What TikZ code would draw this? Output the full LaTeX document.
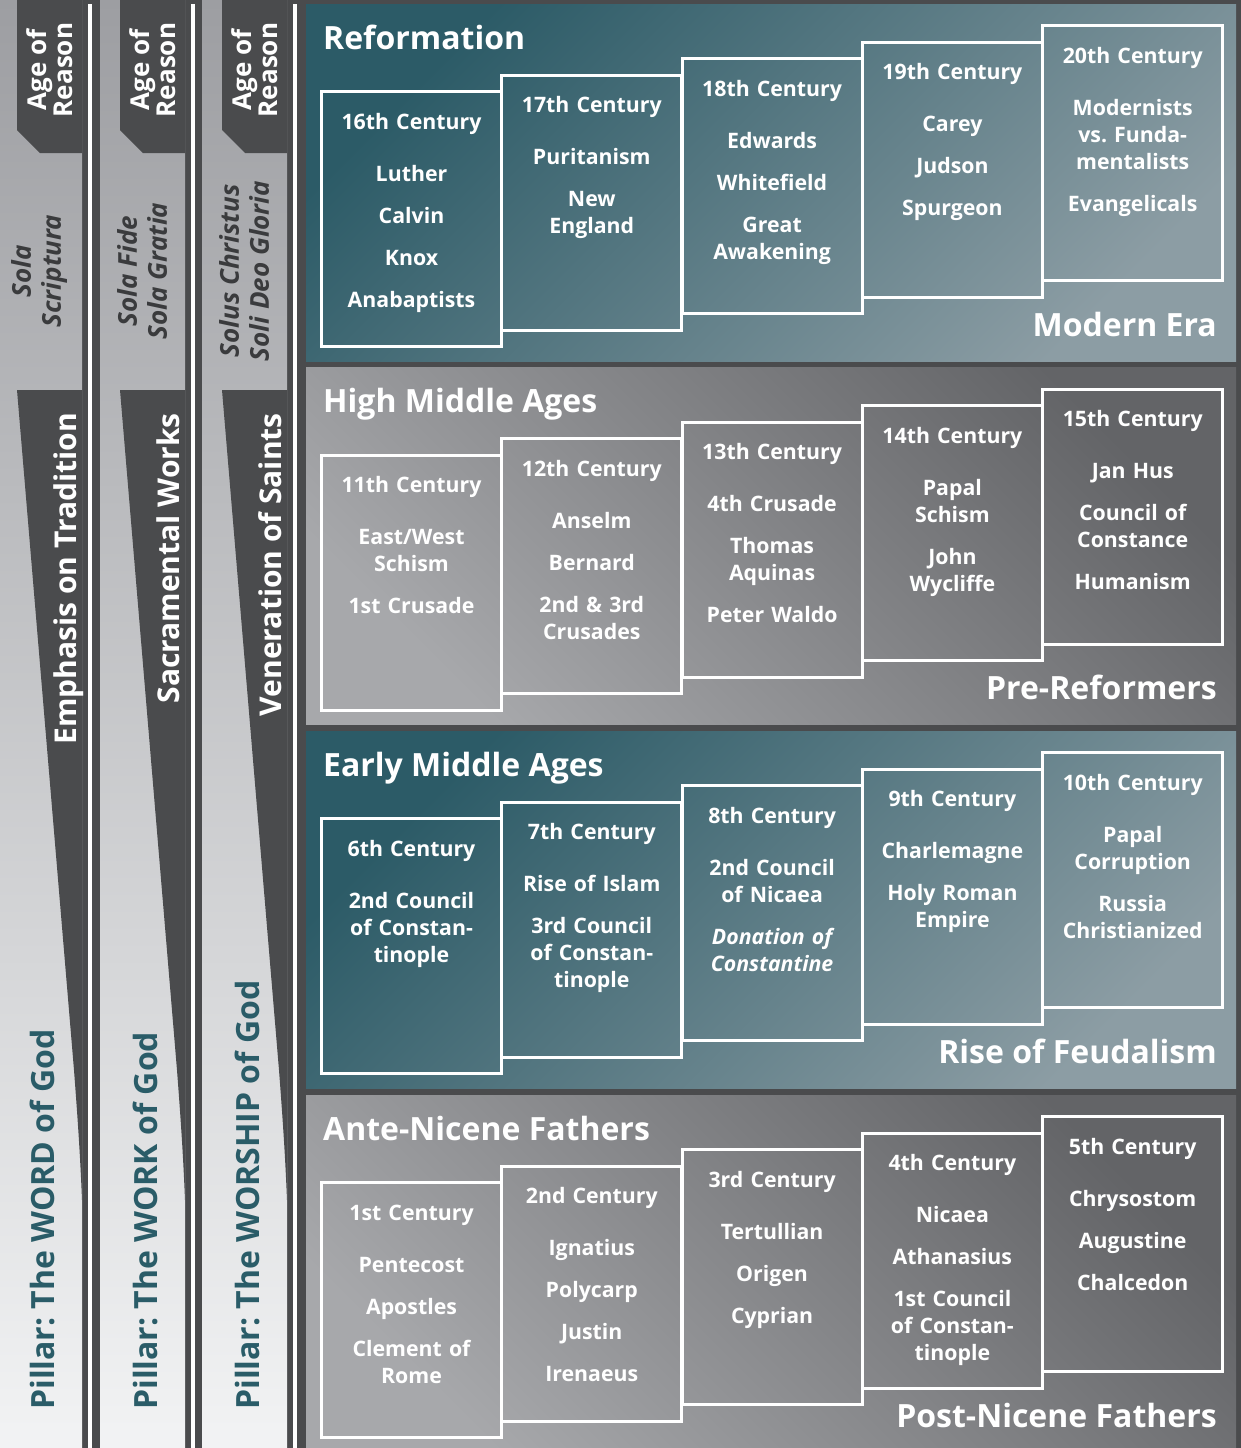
\documentclass[tikz,border=0pt]{standalone}
\usepackage{fontspec}
\setmainfont{Open Sans}
\frenchspacing
\definecolor{bgc}{HTML}{4A4B4D}
\definecolor{tealD}{HTML}{2C5B67}
\definecolor{tealL}{HTML}{8C9DA4}
\definecolor{grayD}{HTML}{636467}
\definecolor{grayL}{HTML}{A7A8AB}
\definecolor{pilT}{HTML}{9D9EA2}
\definecolor{pilB}{HTML}{F2F3F4}
\definecolor{tealtext}{HTML}{2A5C68}
\definecolor{darktext}{HTML}{3A3B3D}
\newcommand\gap{\\[15pt]}
\newcommand\centurybox[4]{%
  \pgfmathsetmacro\bx{320+180.3*#2}%
  \pgfmathsetmacro\by{-(90-16.5*#2+363.67*#1)}%
  \node[cbox, anchor=north west] (b#1#2) at (\bx,\by) {};
  \node[ctext, anchor=base] (t#1#2) at ([yshift=-39pt]b#1#2.north) {#3\\[25pt]#4};
}
\newcommand\pillarcol[5]{%
  \def\L{#2}%
  \shade[top color=pilT, bottom color=pilB] (\L,0) rectangle (\L+85,-1448);
  \fill[bgc] (\L+20,0) -- (\L+20,-130) -- (\L+43,-153) -- (\L+85,-153) -- (\L+85,0) -- cycle;
  \fill[bgc] (\L+20,-390) -- (\L+85,-390) -- (\L+85,-1200) .. controls (\L+83,-1150) and (\L+80,-1110) .. (\L+77,-1070) -- cycle;
  \fill[white] (\L+91,-4) rectangle (\L+95,-1448);
  \node[agetext, rotate=90] (ar#1) at (\L+53,-70) {Age of\\Reason};
  \node[soltext, rotate=90] (pr#1) at (\L+42,-271) {#3};
  \node[bandtext, rotate=90, anchor=base east] (bd#1) at (\L+79,-413) {#4};
  \node[piltext, rotate=90, anchor=base west] (pl#1) at (\L+57,-1410) {#5};
}
\begin{document}
\begin{tikzpicture}[x=1pt,y=1pt,
  cbox/.style={draw=white, line width=3pt, minimum width=180pt, minimum height=255pt, inner sep=0pt},
  ctext/.style={text=white, font=\fontsize{21.3}{27}\selectfont\bfseries, align=center, text width=178pt, inner sep=0pt},
  ptitle/.style={text=white, font=\fontsize{32}{38}\selectfont\bfseries, inner sep=0pt},
  tealpanel/.style={anchor=north west, minimum width=930pt, minimum height=357pt, inner sep=0pt, top color=tealD, bottom color=tealL, shading angle=45},
  graypanel/.style={anchor=north west, minimum width=930pt, minimum height=357pt, inner sep=0pt, top color=grayD, bottom color=grayL, shading angle=-45},
  agetext/.style={text=white, font=\fontsize{26}{26}\selectfont\bfseries, align=center, inner sep=0pt},
  soltext/.style={text=darktext, font=\fontsize{26}{30}\selectfont\bfseries\itshape, align=center, inner sep=0pt},
  bandtext/.style={text=white, font=\fontsize{30}{36}\selectfont\bfseries, inner sep=0pt},
  piltext/.style={text=tealtext, font=\fontsize{32}{36}\selectfont\bfseries, inner sep=0pt}
]
\useasboundingbox (0,0) rectangle (1241,-1448);
\fill[bgc] (0,0) rectangle (1241,-1448);

% pillars
\pillarcol{1}{-3}{Sola\\Scriptura}{Emphasis on Tradition}{Pillar: The WORD of God}
\pillarcol{2}{100}{Sola Fide\\Sola Gratia}{Sacramental Works}{Pillar: The WORK of God}
\pillarcol{3}{202}{Solus Christus\\Soli Deo Gloria}{Veneration of Saints}{Pillar: The WORSHIP of God}

% panels
\node[tealpanel] (P0) at (306,-4) {};
\node[graypanel] (P1) at (306,-367.67) {};
\node[tealpanel] (P2) at (306,-731.33) {};
\node[graypanel] (P3) at (306,-1095) {};

\node[ptitle, anchor=base west] (h0) at (323,-49) {Reformation};
\node[ptitle, anchor=base east] (f0) at (1217,-336) {Modern Era};
\node[ptitle, anchor=base west] (h1) at (323,-412.67) {High Middle Ages};
\node[ptitle, anchor=base east] (f1) at (1217,-699.67) {Pre-Reformers};
\node[ptitle, anchor=base west] (h2) at (323,-776.33) {Early Middle Ages};
\node[ptitle, anchor=base east] (f2) at (1217,-1063.33) {Rise of Feudalism};
\node[ptitle, anchor=base west] (h3) at (323,-1140) {Ante-Nicene Fathers};
\node[ptitle, anchor=base east] (f3) at (1217,-1427) {Post-Nicene Fathers};

% panel 0
\centurybox{0}{0}{16th Century}{Luther\gap Calvin\gap Knox\gap Anabaptists}
\centurybox{0}{1}{17th Century}{Puritanism\gap New\\England}
\centurybox{0}{2}{18th Century}{Edwards\gap Whitefield\gap Great\\Awakening}
\centurybox{0}{3}{19th Century}{Carey\gap Judson\gap Spurgeon}
\centurybox{0}{4}{20th Century}{Modernists\\vs. Funda-\\mentalists\gap Evangelicals}
% panel 1
\centurybox{1}{0}{11th Century}{East/West\\Schism\gap 1st Crusade}
\centurybox{1}{1}{12th Century}{Anselm\gap Bernard\gap 2nd \& 3rd\\Crusades}
\centurybox{1}{2}{13th Century}{4th Crusade\gap Thomas\\Aquinas\gap Peter Waldo}
\centurybox{1}{3}{14th Century}{Papal\\Schism\gap John\\Wycliffe}
\centurybox{1}{4}{15th Century}{Jan Hus\gap Council of\\Constance\gap Humanism}
% panel 2
\centurybox{2}{0}{6th Century}{2nd Council\\of Constan-\\tinople}
\centurybox{2}{1}{7th Century}{Rise of Islam\gap 3rd Council\\of Constan-\\tinople}
\centurybox{2}{2}{8th Century}{2nd Council\\of Nicaea\gap {\itshape Donation of}\\{\itshape Constantine}}
\centurybox{2}{3}{9th Century}{Charlemagne\gap Holy Roman\\Empire}
\centurybox{2}{4}{10th Century}{Papal\\Corruption\gap Russia\\Christianized}
% panel 3
\centurybox{3}{0}{1st Century}{Pentecost\gap Apostles\gap Clement of\\Rome}
\centurybox{3}{1}{2nd Century}{Ignatius\gap Polycarp\gap Justin\gap Irenaeus}
\centurybox{3}{2}{3rd Century}{Tertullian\gap Origen\gap Cyprian}
\centurybox{3}{3}{4th Century}{Nicaea\gap Athanasius\gap 1st Council\\of Constan-\\tinople}
\centurybox{3}{4}{5th Century}{Chrysostom\gap Augustine\gap Chalcedon}
\end{tikzpicture}
\end{document}
